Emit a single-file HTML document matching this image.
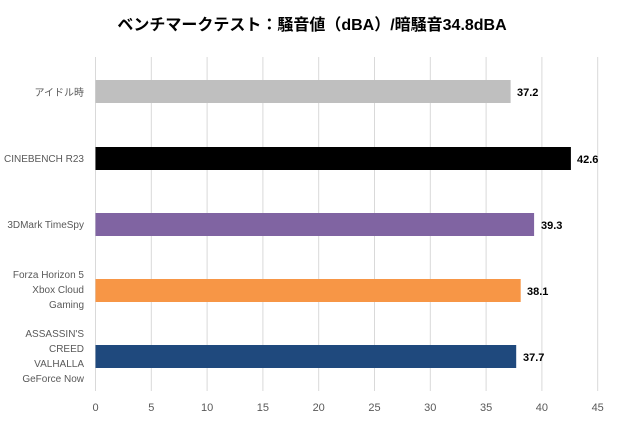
<!DOCTYPE html><html><head><meta charset="utf-8"><style>body{margin:0;background:#fff}</style></head><body>
<svg width="620" height="425" xmlns="http://www.w3.org/2000/svg" font-family="'Liberation Sans','Noto Sans CJK JP',sans-serif">
<rect width="620" height="425" fill="#fff"/>
<text x="312" y="30" text-anchor="middle" font-size="16" font-weight="bold" fill="#000">ベンチマークテスト：騒音値（dBA）/暗騒音34.8dBA</text>
<g stroke="#d9d9d9" stroke-width="1">
<line x1="95.5" y1="57" x2="95.5" y2="391"/><line x1="151.3" y1="57" x2="151.3" y2="391"/><line x1="207.1" y1="57" x2="207.1" y2="391"/><line x1="262.9" y1="57" x2="262.9" y2="391"/><line x1="318.7" y1="57" x2="318.7" y2="391"/><line x1="374.5" y1="57" x2="374.5" y2="391"/><line x1="430.3" y1="57" x2="430.3" y2="391"/><line x1="486.1" y1="57" x2="486.1" y2="391"/><line x1="541.9" y1="57" x2="541.9" y2="391"/><line x1="597.7" y1="57" x2="597.7" y2="391"/>
</g>
<rect x="95.5" y="80" width="415.1" height="23" fill="#bfbfbf"/>
<rect x="95.5" y="147" width="475.4" height="23" fill="#000"/>
<rect x="95.5" y="213" width="438.6" height="23" fill="#8064a2"/>
<rect x="95.5" y="279" width="425.2" height="23" fill="#f79646"/>
<rect x="95.5" y="345" width="420.7" height="23" fill="#1f497d"/>
<g font-size="11" font-weight="bold" fill="#000">
<text x="517" y="96">37.2</text><text x="577" y="163">42.6</text><text x="541" y="229">39.3</text><text x="527" y="295">38.1</text><text x="523" y="361">37.7</text>
</g>
<g font-size="10" fill="#595959" text-anchor="end">
<text x="84" y="96">アイドル時</text>
<text x="84" y="162">CINEBENCH R23</text>
<text x="84" y="228">3DMark TimeSpy</text>
<text x="84" y="278">Forza Horizon 5</text><text x="84" y="293">Xbox Cloud</text><text x="84" y="308">Gaming</text>
<text x="84" y="337">ASSASSIN'S</text><text x="84" y="352">CREED</text><text x="84" y="367">VALHALLA</text><text x="84" y="382">GeForce Now</text>
</g>
<g font-size="11" fill="#595959" text-anchor="middle">
<text x="95.5" y="411">0</text><text x="151.3" y="411">5</text><text x="207.1" y="411">10</text><text x="262.9" y="411">15</text><text x="318.7" y="411">20</text><text x="374.5" y="411">25</text><text x="430.3" y="411">30</text><text x="486.1" y="411">35</text><text x="541.9" y="411">40</text><text x="597.7" y="411">45</text>
</g>
</svg></body></html>
